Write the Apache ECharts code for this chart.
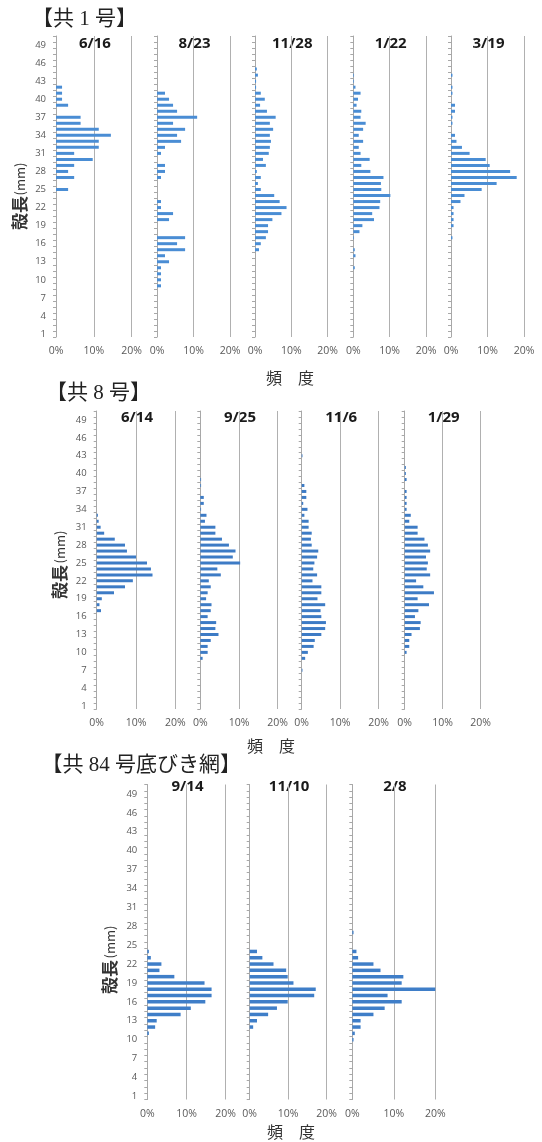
<!DOCTYPE html>
<html><head><meta charset="utf-8">
<script src="https://cdn.jsdelivr.net/npm/echarts@6/dist/echarts.min.js"></script>
<style>html,body{margin:0;padding:0;background:#fff}#c{width:542px;height:1142px}</style>
</head><body><div id="c"></div>
<script>
// ---- data ----
const categories = ['1','2','3','4','5','6','7','8','9','10','11','12','13','14','15','16','17','18','19','20',
 '21','22','23','24','25','26','27','28','29','30','31','32','33','34','35','36','37','38','39','40',
 '41','42','43','44','45','46','47','48','49','50'];

const groupTitles = ['【共 1 号】', '【共 8 号】', '【共 84 号底びき網】'];
const g1Dates = ['6/16', '8/23', '11/28', '1/22', '3/19'];
const g2Dates = ['6/14', '9/25', '11/6', '1/29'];
const g3Dates = ['9/14', '11/10', '2/8'];
const yName = '殻長';
const yUnit = '(mm)';
const xName = '頻　度';

// [shell length mm, frequency %]
const k1_0616 = [[42,1.6],[41,1.6],[40,1.6],[39,3.2],[37,6.5],[36,6.5],[35,11.3],[34,14.5],[33,11.3],[32,11.3],[31,4.8],[30,9.7],[29,4.8],[28,3.2],[27,4.8],[25,3.2]];
const k1_0823 = [[41,2.2],[40,3.3],[39,4.4],[38,5.5],[37,11.0],[36,4.4],[35,7.7],[34,5.5],[33,6.6],[32,2.2],[31,1.1],[29,2.2],[28,2.2],[27,1.1],[23,1.1],[22,1.1],[21,4.4],[20,3.3],[17,7.7],[16,5.5],[15,7.7],[14,2.2],[13,3.3],[12,1.1],[11,1.1],[10,1.1],[9,1.1]];
const k1_1128 = [[45,0.5],[44,0.8],[43,0.3],[42,0.3],[41,1.6],[40,2.7],[39,1.4],[38,3.3],[37,5.7],[36,4.1],[35,5.0],[34,4.1],[33,4.4],[32,4.1],[31,3.8],[30,2.2],[29,3.0],[28,0.5],[27,1.6],[26,0.8],[25,1.6],[24,5.3],[23,6.8],[22,8.7],[21,7.3],[20,4.8],[19,3.6],[18,3.6],[17,3.0],[16,1.6],[15,1.1]];
const k1_0122 = [[44,0.2],[43,0.2],[42,0.6],[41,2.0],[40,1.3],[39,0.9],[38,2.2],[37,2.0],[36,3.4],[35,2.7],[34,1.5],[33,2.7],[32,1.5],[31,2.0],[30,4.5],[29,2.2],[28,4.7],[27,8.3],[26,7.6],[25,7.7],[24,10.2],[23,7.4],[22,7.2],[21,5.2],[20,5.7],[19,2.5],[18,1.7],[17,0.2],[15,0.4],[14,0.6],[12,0.4]];
const k1_0319 = [[44,0.4],[42,0.4],[41,0.4],[39,1.1],[38,1.1],[37,0.4],[36,0.4],[34,1.1],[33,1.5],[32,3.0],[31,5.1],[30,9.5],[29,10.6],[28,16.2],[27,18.0],[26,12.5],[25,8.4],[24,3.7],[23,2.6],[22,0.7],[21,0.7],[20,0.7],[19,0.7],[17,0.4]];

const k8_0614 = [[33,0.3],[32,0.5],[31,1.0],[30,1.9],[29,4.6],[28,7.2],[27,7.7],[26,10.0],[25,12.8],[24,13.8],[23,14.2],[22,9.2],[21,7.2],[20,4.4],[19,1.3],[18,0.7],[17,1.1]];
const k8_0925 = [[39,0.2],[38,0.2],[36,0.9],[35,0.9],[34,0.2],[33,1.6],[32,1.2],[31,3.9],[30,3.9],[29,5.6],[28,7.4],[27,9.1],[26,8.4],[25,10.3],[24,4.4],[23,5.3],[22,2.2],[21,2.7],[20,1.9],[19,1.5],[18,2.9],[17,2.7],[16,1.9],[15,4.1],[14,3.9],[13,4.7],[12,2.7],[11,1.9],[10,1.9],[9,0.6]];
const k8_1106 = [[43,0.2],[38,0.7],[37,1.2],[36,1.2],[35,0.4],[34,1.5],[33,0.7],[32,1.8],[31,1.8],[30,2.6],[29,2.4],[28,2.6],[27,4.3],[26,4.0],[25,3.3],[24,3.0],[23,4.0],[22,2.8],[21,5.1],[20,5.1],[19,4.1],[18,6.1],[17,4.9],[16,5.1],[15,6.3],[14,6.1],[13,5.1],[12,3.4],[11,3.1],[10,1.6],[9,0.9],[7,0.2]];
const k8_0129 = [[41,0.3],[40,0.3],[39,0.5],[37,0.5],[36,0.5],[35,0.5],[34,0.5],[33,1.6],[32,1.2],[31,3.4],[30,3.4],[29,5.2],[28,6.1],[27,6.7],[26,5.6],[25,6.1],[24,5.8],[23,6.7],[22,3.0],[21,4.9],[20,7.7],[19,3.4],[18,6.4],[17,3.6],[16,2.7],[15,4.2],[14,4.0],[13,1.8],[12,1.2],[11,1.2],[10,0.5]];

const k84_0914 = [[24,0.4],[23,0.9],[22,3.6],[21,3.1],[20,6.9],[19,14.6],[18,16.4],[17,16.4],[16,14.8],[15,11.1],[14,8.5],[13,2.4],[12,2.0],[11,0.4]];
const k84_1110 = [[24,1.9],[23,3.3],[22,6.2],[21,9.5],[20,9.9],[19,11.4],[18,17.2],[17,16.8],[16,9.9],[15,7.1],[14,4.8],[13,1.9],[12,0.9]];
const k84_0208 = [[27,0.3],[24,1.0],[23,1.4],[22,5.1],[21,6.8],[20,12.3],[19,11.9],[18,20.0],[17,8.5],[16,11.9],[15,7.8],[14,5.1],[13,2.0],[12,2.0],[11,0.6],[10,0.3]];

// ---- layout (separate from data) ----
const groups = [
  { title: groupTitles[0], titlePos: [32, 19, 'left'], dates: g1Dates, data: [k1_0616, k1_0823, k1_1128, k1_0122, k1_0319],
    top: 36, height: 301, lefts: [56, 157, 255, 353.3, 451], widths: [75.7, 73, 72.5, 72.7, 73],
    dateY: 44, color: '#4a8dd4', barW: 3, yNamePos: [20, 213, 179], xNamePos: [290, 378] },
  { title: groupTitles[1], titlePos: [46, 393, 'left'], dates: g2Dates, data: [k8_0614, k8_0925, k8_1106, k8_0129],
    top: 411, height: 298, lefts: [96.7, 200.3, 301.7, 404.7], widths: [78.6, 77.4, 77, 76],
    dateY: 418, color: '#3d7bc5', barW: 3, yNamePos: [60, 582, 547], xNamePos: [271, 746] },
  { title: groupTitles[2], titlePos: [241, 765, 'right'], dates: g3Dates, data: [k84_0914, k84_1110, k84_0208],
    top: 784.5, height: 315, lefts: [147.3, 249.7, 352.3], widths: [78.4, 76.8, 83],
    dateY: 787, color: '#3f7ec8', barW: 3.5, yNamePos: [110, 977, 942], xNamePos: [291, 1132] }
];

function toSeriesData(pairs) {
  const m = new Map(pairs);
  return categories.map(c => m.has(+c) ? m.get(+c) : null);
}

const grid = [], xAxis = [], yAxis = [], series = [], elements = [];
const axisGray = '#a8a8a8';
const labelColor = '#595959';
let idx = 0;
groups.forEach(g => {
  elements.push({ type: 'text', x: g.titlePos[0], y: g.titlePos[1],
    style: { text: g.title, font: '21px "Liberation Serif", "Noto Sans CJK JP"', fill: '#222',
      align: g.titlePos[2], textAlign: g.titlePos[2], verticalAlign: 'middle', textVerticalAlign: 'middle' } });
  elements.push({ type: 'text', x: g.yNamePos[0], y: g.yNamePos[1], rotation: Math.PI / 2,
    style: { text: yName, font: 'bold 17px "Noto Sans CJK JP"', fill: '#333',
      align: 'center', textAlign: 'center', verticalAlign: 'middle', textVerticalAlign: 'middle' } });
  elements.push({ type: 'text', x: g.yNamePos[0], y: g.yNamePos[2], rotation: Math.PI / 2,
    style: { text: yUnit, font: '13px "Noto Sans CJK JP"', fill: '#333',
      align: 'center', textAlign: 'center', verticalAlign: 'middle', textVerticalAlign: 'middle' } });
  elements.push({ type: 'text', x: g.xNamePos[0], y: g.xNamePos[1],
    style: { text: xName, font: '16px "Noto Sans CJK JP"', fill: '#333',
      align: 'center', textAlign: 'center', verticalAlign: 'middle', textVerticalAlign: 'middle' } });
  g.dates.forEach((d, j) => {
    grid.push({ left: g.lefts[j], top: g.top, width: g.widths[j], height: g.height, containLabel: false });
    xAxis.push({ type: 'value', gridIndex: idx, min: 0, max: 20, interval: 10,
      axisLine: { show: false }, axisTick: { show: false },
      splitLine: { show: true, lineStyle: { color: '#b0b0b0', width: 1 } },
      axisLabel: { formatter: '{value}%', fontSize: 10.5, color: labelColor, fontFamily: 'Open Sans', margin: 9 } });
    yAxis.push({ type: 'category', gridIndex: idx, data: categories,
      axisLine: { show: true, lineStyle: { color: axisGray, width: 1 } },
      axisTick: { show: true, interval: 0, length: 3, lineStyle: { color: axisGray } },
      axisLabel: { show: j === 0, interval: 2, fontSize: 9.5, color: labelColor, fontFamily: 'Open Sans', margin: 10 },
      splitLine: { show: false } });
    series.push({ type: 'bar', xAxisIndex: idx, yAxisIndex: idx, data: toSeriesData(g.data[j]),
      barWidth: g.barW, itemStyle: { color: g.color }, silent: true });
    elements.push({ type: 'text', x: g.lefts[j] + g.widths[j] / 2 + 1, y: g.dateY,
      style: { text: d, font: 'bold 15px "Open Sans"', fill: '#1a1a1a',
        align: 'center', textAlign: 'center', verticalAlign: 'middle', textVerticalAlign: 'middle' } });
    idx++;
  });
});

const chart = echarts.init(document.getElementById('c'), null, { renderer: 'canvas' });
chart.setOption({
  backgroundColor: '#fff',
  animation: false,
  grid, xAxis, yAxis, series,
  graphic: { elements }
});
</script></body></html>
